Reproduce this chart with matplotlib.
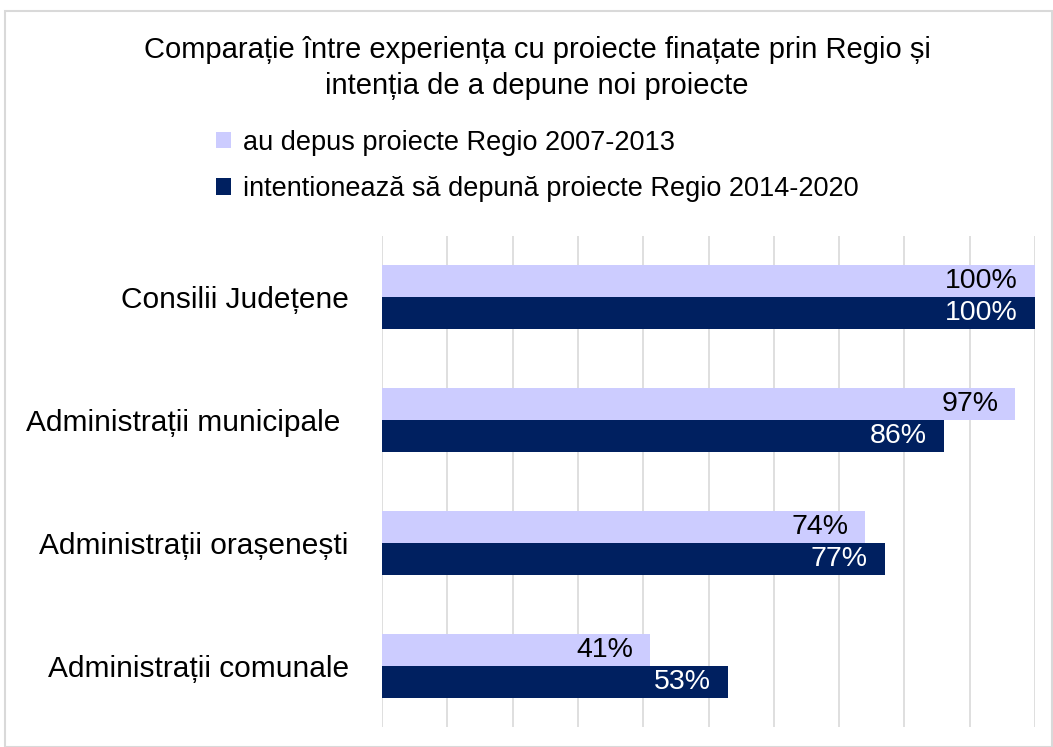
import numpy as np
import matplotlib.pyplot as plt

plt.rcParams['font.family'] = ['Liberation Sans', 'DejaVu Sans']

# Data
categories = ['Consilii Județene', 'Administrații municipale ',
              'Administrații orașenești', 'Administrații comunale']
depus_2007 = [100, 97, 74, 41]
intentie_2014 = [100, 86, 77, 53]
series_names = ['au depus proiecte Regio 2007-2013',
                'intentionează să depună proiecte Regio 2014-2020']

light = '#ccccff'
dark = '#002060'

fig = plt.figure(figsize=(10.53, 7.47), dpi=100)
# light grey frame around the chart
fig.patches.append(plt.Rectangle((5/1053, 0), 1 - 5/1053 - 1/1053, 1 - 11/747,
                                 transform=fig.transFigure, fill=False,
                                 edgecolor='#d9d9d9', linewidth=1.5))

ax = fig.add_axes([382/1053, 1 - 727/747, (1035 - 382)/1053, (727 - 236)/747])

y = np.arange(len(categories))
h = 0.26
b1 = ax.barh(y - h/2, depus_2007, height=h, color=light, label=series_names[0])
b2 = ax.barh(y + h/2, intentie_2014, height=h, color=dark, label=series_names[1])

for bar, v in zip(b1, depus_2007):
    ax.text(v - 2.6, bar.get_y() + bar.get_height()/2, f'{v}%',
            ha='right', va='center', fontsize=20.5, color='black')
for bar, v in zip(b2, intentie_2014):
    ax.text(v - 2.6, bar.get_y() + bar.get_height()/2, f'{v}%',
            ha='right', va='center', fontsize=20.5, color='white')

ax.set_xlim(0, 100)
ax.set_ylim(len(categories) - 0.5, -0.5)
ax.set_xticks(np.arange(0, 101, 10))
ax.set_xticklabels([])
ax.tick_params(axis='x', length=0)
ax.tick_params(axis='y', length=0, pad=24, labelsize=21.5)
ax.set_yticks(y)
ax.set_yticklabels(categories)
ax.grid(axis='x', color='#d9d9d9', linewidth=1.2)
ax.set_axisbelow(True)
for s in ax.spines.values():
    s.set_visible(False)

fig.text(537/1053, 1 - 68/747,
         'Comparație între experiența cu proiecte finațate prin Regio și\nintenția de a depune noi proiecte',
         ha='center', va='center', fontsize=21, linespacing=1.35)

leg = fig.legend(handles=[b1, b2], loc='center left',
                 bbox_to_anchor=(216/1053, 1 - 166/747),
                 frameon=False, fontsize=19.5, handlelength=0.55, handleheight=0.55,
                 handletextpad=0.45, labelspacing=0.75, borderpad=0, borderaxespad=0)

fig.savefig('out.png', dpi=100)
